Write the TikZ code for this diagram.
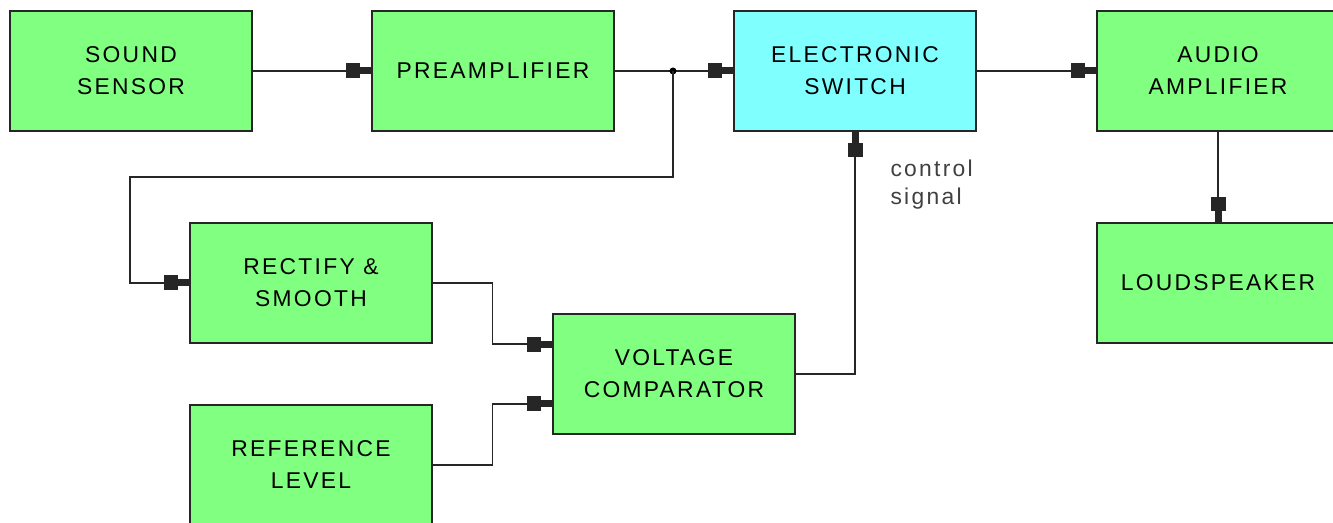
\documentclass[tikz,border=0pt]{standalone}
\usepackage{fontspec}
\setmainfont[LetterSpace=10]{Liberation Sans}
\usepackage{tikz}
\usetikzlibrary{arrows.meta}
\definecolor{blokgreen}{RGB}{128,255,128}
\definecolor{blokcyan}{RGB}{128,255,255}

\begin{document}
\begin{tikzpicture}[x=0.02cm,y=-0.02cm,line width=0.8pt,
  blok/.style={draw=black!85,fill=blokgreen,minimum width=4.84cm,minimum height=2.4cm,align=center,inner sep=0pt,font=\fontsize{13}{18.2}\selectfont},
  arr/.style={-{Rectangle[length=0.28cm,width=0.3cm]Rectangle[length=0.22cm,width=0.14cm]}},
  wire/.style={draw=black!85}]
\useasboundingbox(0,0)rectangle(1333,523);
% top row
\node[blok](snd)at(131,71){SOUND\\SENSOR};
\node[blok](pre)at(493,71){PREAMPLIFIER};
\node[blok,fill=blokcyan](sw)at(855,71){ELECTRONIC\\SWITCH};
\node[blok](amp)at(1218,71){AUDIO\\AMPLIFIER};
\node[blok](spk)at(1218,283){LOUDSPEAKER};
% level detector
\node[blok](rect)at(311,283){RECTIFY \&\\SMOOTH};
\node[blok](cmp)at(674,374){VOLTAGE\\COMPARATOR};
\node[blok](ref)at(311,465){REFERENCE\\LEVEL};
\node[anchor=west,align=left,text=black!75,font=\fontsize{13}{16}\selectfont](ctl)at(884,185){control\\signal};
\coordinate(jn)at(673,71);
\draw[wire,arr](snd)--(pre);\draw[wire,arr](pre)--(sw);\draw[wire,arr](sw)--(amp);
\draw[wire,arr](amp)--(spk);
\fill(jn)circle(0.07cm);
\draw[wire,arr](jn)|-(130,177)|-(rect.west);
\draw[wire,arr](rect.east)--++(60,0)|-([yshift=0.6cm]cmp.west);
\draw[wire,arr](ref.east)--++(60,0)|-([yshift=-0.6cm]cmp.west);
\draw[wire,arr](cmp.east)-|(sw.south);
\end{tikzpicture}
\end{document}
